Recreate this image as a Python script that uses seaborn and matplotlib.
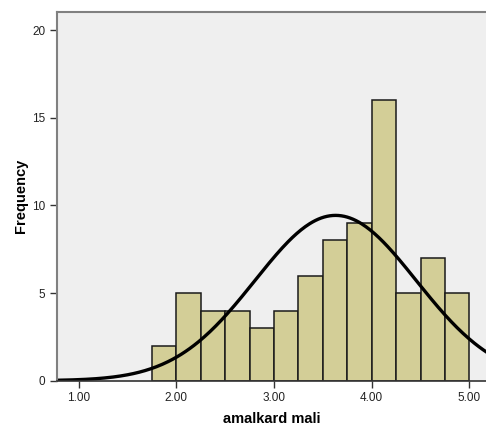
import numpy as np
import seaborn as sns
import matplotlib.pyplot as plt

# Histogram counts (bin width 0.25)
bin_edges = [1.75, 2.00, 2.25, 2.50, 2.75, 3.00, 3.25, 3.50, 3.75, 4.00, 4.25, 4.50, 4.75, 5.00]
counts = [2, 5, 4, 4, 3, 4, 6, 8, 9, 16, 5, 7, 5]
# Normal curve parameters
curve_mean = 3.63
curve_sd = 0.825
x_ticks = [1.00, 2.00, 3.00, 4.00, 5.00]
x_ticklabels = ["1.00", "2.00", "3.00", "4.00", "5.00"]
y_ticks = [0, 5, 10, 15, 20]

sns.set_style("white")
plt.rcParams["font.family"] = ["Liberation Sans", "DejaVu Sans"]

fig = plt.figure(figsize=(4.86, 4.30), dpi=100)
ax = fig.add_axes([0.1167, 0.1147, 0.8833, 0.8573])
ax.set_facecolor("#efefef")

centers = [(bin_edges[i] + bin_edges[i + 1]) / 2 for i in range(len(counts))]
sns.histplot(x=centers, weights=counts, bins=bin_edges, ax=ax,
             color="#d3ce97", alpha=1, edgecolor="#1a1a1a", linewidth=1.1)

# Normal curve scaled to counts
n = sum(counts)
width = bin_edges[1] - bin_edges[0]
xs = np.linspace(0.775, 5.2, 300)
ys = n * width / (curve_sd * np.sqrt(2 * np.pi)) * np.exp(-0.5 * ((xs - curve_mean) / curve_sd) ** 2)
sns.lineplot(x=xs, y=ys, ax=ax, color="black", linewidth=2.4)

ax.set_xlim(0.775, 5.17)
ax.set_ylim(0, 21.03)
ax.set_xticks(x_ticks)
ax.set_xticklabels(x_ticklabels)
ax.set_yticks(y_ticks)
ax.tick_params(axis="both", direction="out", length=5, width=1, color="#333333",
               labelsize=8.5, labelcolor="#222222", pad=3, left=True, bottom=True)

for side in ["left", "top"]:
    ax.spines[side].set_color("#808080")
    ax.spines[side].set_linewidth(1.5)
ax.spines["bottom"].set_color("#333333")
ax.spines["bottom"].set_linewidth(1.2)
ax.spines["right"].set_visible(False)

ax.set_xlabel("amalkard mali", fontsize=10.5, fontweight="bold", labelpad=6, color="black")
ax.set_ylabel("Frequency", fontsize=10.5, fontweight="bold", labelpad=3, color="black")

fig.savefig("out.png", dpi=100)
